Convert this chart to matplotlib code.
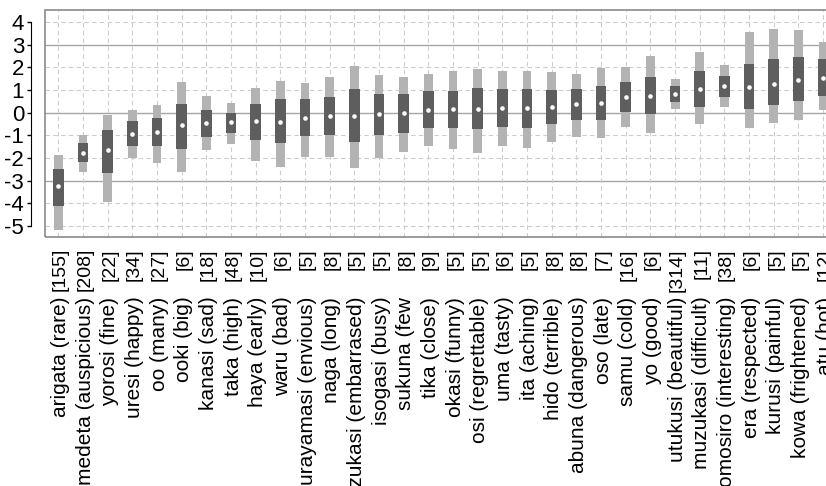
import matplotlib.pyplot as plt
from matplotlib.patches import Rectangle

plt.rcParams['axes.unicode_minus'] = False

names = ['arigata (rare)', 'medeta (auspicious)', 'yorosi (fine)', 'uresi (happy)',
         'oo (many)', 'ooki (big)', 'kanasi (sad)', 'taka (high)', 'haya (early)',
         'waru (bad)', 'urayamasi (envious)', 'naga (long)', 'hazukasi (embarrased)',
         'isogasi (busy)', 'sukuna (few', 'tika (close)', 'okasi (funny)',
         'osi (regrettable)', 'uma (tasty)', 'ita (aching)', 'hido (terrible)',
         'abuna (dangerous)', 'oso (late)', 'samu (cold)', 'yo (good)',
         'utukusi (beautiful)', 'muzukasi (difficult)', 'omosiro (interesting)',
         'era (respected)', 'kurusi (painful)', 'kowa (frightened)', 'atu (hot)']
counts = [155, 208, 22, 34, 27, 6, 18, 48, 10, 6, 5, 8, 5, 5, 8, 9, 5, 5, 6, 5,
          8, 8, 7, 16, 6, 314, 11, 38, 6, 5, 5, 12]

# outer range (light bars)
lo = [-5.15, -2.61, -3.93, -2.00, -2.21, -2.61, -1.66, -1.39, -2.13, -2.39,
      -1.95, -1.95, -2.46, -1.98, -1.73, -1.45, -1.61, -1.80, -1.48, -1.57,
      -1.29, -1.09, -1.11, -0.63, -0.89, 0.15, -0.51, 0.24, -0.70, -0.45, -0.33, 0.11]
hi = [-1.88, -1.00, -0.11, 0.11, 0.33, 1.35, 0.72, 0.44, 1.10, 1.40,
      1.31, 1.56, 2.07, 1.65, 1.57, 1.68, 1.82, 1.90, 1.84, 1.85,
      1.78, 1.69, 1.96, 2.01, 2.48, 1.46, 2.69, 2.09, 3.53, 3.70, 3.66, 3.11]
# inner range (dark boxes)
q1 = [-4.12, -2.17, -2.66, -1.48, -1.48, -1.60, -1.07, -0.92, -1.22, -1.33,
      -1.04, -1.00, -1.29, -0.98, -0.88, -0.70, -0.69, -0.74, -0.63, -0.66,
      -0.52, -0.33, -0.33, 0.02, -0.08, 0.46, 0.25, 0.68, 0.18, 0.33, 0.52, 0.72]
q3 = [-2.49, -1.36, -0.78, -0.38, -0.23, 0.37, 0.11, -0.01, 0.38, 0.58,
      0.58, 0.69, 1.04, 0.82, 0.84, 0.94, 0.96, 1.07, 1.04, 1.02,
      1.00, 1.06, 1.18, 1.34, 1.57, 1.16, 1.84, 1.60, 2.16, 2.34, 2.45, 2.34]
med = [-3.24, -1.76, -1.63, -0.95, -0.85, -0.56, -0.45, -0.42, -0.39, -0.41,
       -0.22, -0.17, -0.13, -0.08, -0.01, 0.11, 0.16, 0.16, 0.19, 0.21,
       0.25, 0.36, 0.43, 0.67, 0.74, 0.81, 1.03, 1.15, 1.11, 1.28, 1.43, 1.53]

yticks = list(range(-5, 5))

fig = plt.figure(figsize=(8.26, 4.86), dpi=100)
# plot box runs past the right edge, like the cropped original
ax = fig.add_axes([45 / 826, 1 - 237 / 486, 791.4 / 826, 227 / 486])

x = list(range(len(names)))
ax.bar(x, [h - l for h, l in zip(hi, lo)], bottom=lo, width=0.36,
       color='#b3b3b3', zorder=3)
ax.bar(x, [b - a for a, b in zip(q1, q3)], bottom=q1, width=0.44,
       color='#5e5e5e', zorder=4)
ax.plot(x, med, 'o', color='white', ms=3.3, mec='none', zorder=5)

# grid
for v in yticks:
    if v in (-3, 0, 3):
        ax.axhline(v, color='#a6a6a6', lw=1.0, zorder=1)
    else:
        ax.axhline(v, color='#cdcdcd', lw=0.8, ls=(0, (4, 3)), zorder=1)
for i in x:
    ax.axvline(i, color='#cdcdcd', lw=0.8, ls=(0, (4, 3)), zorder=1)

ax.set_xlim(-0.54, 31.54)
ax.set_ylim(-5.48, 4.52)

for s in ['top', 'right', 'bottom']:
    ax.spines[s].set_visible(False)
ax.spines['left'].set_position(('outward', 10))
ax.spines['left'].set_bounds(-5, 4)
ax.spines['left'].set_color('black')
ax.add_patch(Rectangle((0, 0), 1, 1, transform=ax.transAxes, fill=False,
                       ec='#8a8a8a', lw=1.2, clip_on=False, zorder=6))

ax.set_xticks([])
ax.set_yticks(yticks, [str(v) for v in yticks], fontsize=16,
              family=['Liberation Sans Narrow', 'Liberation Sans'])
ax.tick_params(axis='y', length=3, width=1, pad=2, colors='black')

# rotated category labels: count on top, name below
for i in x:
    ax.annotate('[%d]' % counts[i], xy=(i, 0), xycoords=('data', 'axes fraction'),
                xytext=(1.5, -8), textcoords='offset points', rotation=90,
                ha='center', va='top', fontsize=14, family='Liberation Sans',
                annotation_clip=False)
    ax.annotate(names[i], xy=(i, 0), xycoords=('data', 'axes fraction'),
                xytext=(1.5, -43), textcoords='offset points', rotation=90,
                ha='center', va='top', fontsize=15, family='Liberation Sans',
                annotation_clip=False)

fig.savefig('out.png', dpi=100)
